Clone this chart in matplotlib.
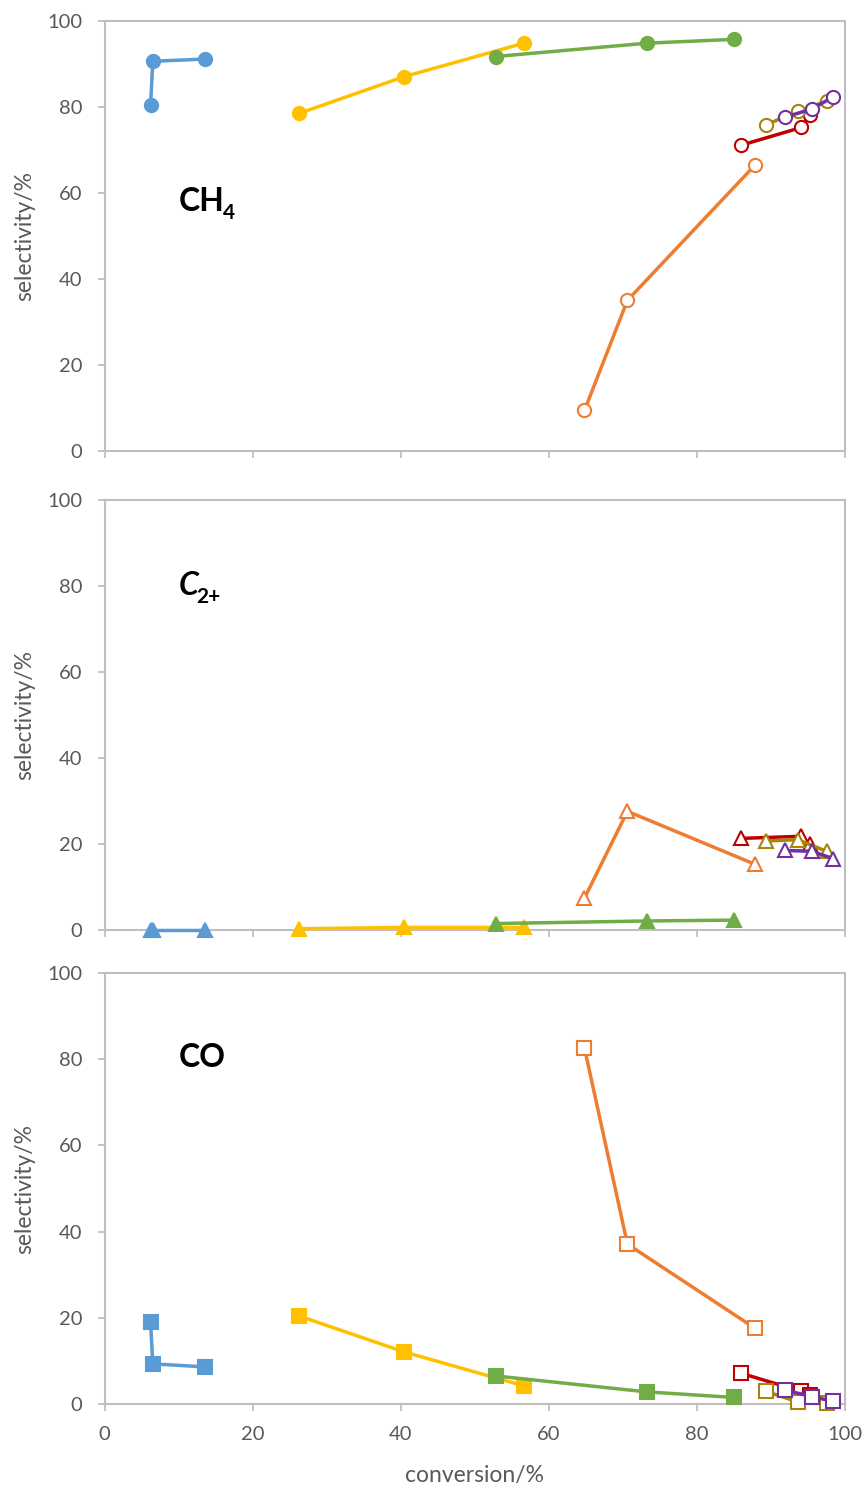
import numpy as np
import matplotlib
matplotlib.use("Agg")
import matplotlib.pyplot as plt
from matplotlib import font_manager

plt.rcParams["font.family"] = ["Lato", "DejaVu Sans"]

# conversion (%) per series, shared by all three panels
conv_blue = [6.2, 6.5, 13.5]
conv_yellow = [26.3, 40.4, 56.6]
conv_green = [52.8, 73.2, 85.0]
conv_orange = [64.8, 70.6, 87.8]
conv_red = [86.0, 94.1, 95.2]
conv_olive = [89.3, 93.6, 97.5]
conv_purple = [91.9, 95.5, 98.4]

# CH4 selectivity (%)
ch4_blue = [80.4, 90.6, 91.1]
ch4_yellow = [78.5, 87.0, 94.8]
ch4_green = [91.7, 94.8, 95.7]
ch4_orange = [9.4, 35.0, 66.4]
ch4_red = [71.1, 75.2, 78.1]
ch4_olive = [75.8, 79.0, 81.3]
ch4_purple = [77.6, 79.5, 82.3]

# C2+ selectivity (%)
c2_blue = [0.0, 0.0, 0.0]
c2_yellow = [0.3, 0.6, 0.6]
c2_green = [1.5, 2.1, 2.3]
c2_orange = [7.4, 27.6, 15.3]
c2_red = [21.3, 21.8, 20.0]
c2_olive = [20.7, 21.0, 18.3]
c2_purple = [18.5, 18.3, 16.6]

# CO selectivity (%)
co_blue = [19.0, 9.3, 8.6]
co_yellow = [20.4, 12.1, 4.2]
co_green = [6.5, 2.8, 1.5]
co_orange = [82.6, 37.1, 17.6]
co_red = [7.1, 2.9, 2.1]
co_olive = [2.9, 0.5, 0.1]
co_purple = [3.2, 1.7, 0.6]

colors = {
    "blue": "#5B9BD5",
    "yellow": "#FFC000",
    "green": "#70AD47",
    "orange": "#ED7D31",
    "red": "#C00000",
    "olive": "#A5850A",
    "purple": "#7030A0",
}
filled = {"blue", "yellow", "green"}

conv = {
    "blue": conv_blue, "yellow": conv_yellow, "green": conv_green,
    "orange": conv_orange, "red": conv_red, "olive": conv_olive,
    "purple": conv_purple,
}
# (marker, main label, subscript, italic main, label y)
panels = [
    ("o", "CH", "4", False, 58, {
        "blue": ch4_blue, "yellow": ch4_yellow, "green": ch4_green,
        "orange": ch4_orange, "red": ch4_red, "olive": ch4_olive,
        "purple": ch4_purple}),
    ("^", "C", "2+", True, 80, {
        "blue": c2_blue, "yellow": c2_yellow, "green": c2_green,
        "orange": c2_orange, "red": c2_red, "olive": c2_olive,
        "purple": c2_purple}),
    ("s", "CO", "", False, 80.5, {
        "blue": co_blue, "yellow": co_yellow, "green": co_green,
        "orange": co_orange, "red": co_red, "olive": co_olive,
        "purple": co_purple}),
]

fig = plt.figure(figsize=(8.65, 14.88), dpi=100)
boxes = [(0.986, 0.697), (0.664, 0.375), (0.346, 0.0565)]
left, right = 0.121, 0.977
grey = "#BFBFBF"
txt = "#595959"

# pick an installed family that really has a bold italic face
ital_family = "DejaVu Sans"
for fam in ["Lato", "Open Sans", "Noto Sans", "Liberation Sans"]:
    fp = font_manager.FontProperties(family=fam, style="italic", weight="bold")
    path = font_manager.findfont(fp, fallback_to_default=False)
    if "italic" in path.lower() or "oblique" in path.lower():
        ital_family = fam
        break

for i, ((marker, main, sub, ital, ly, sel), (top, bot)) in enumerate(zip(panels, boxes)):
    ax = fig.add_axes([left, bot, right - left, top - bot])
    for name in ["blue", "yellow", "green", "orange", "red", "olive", "purple"]:
        c = colors[name]
        ax.plot(conv[name], sel[name], color=c, lw=2.5, marker=marker,
                markersize=9.5 if marker != "^" else 10.5,
                markerfacecolor=c if name in filled else "white",
                markeredgecolor=c, markeredgewidth=1.5,
                clip_on=False, zorder=3)
    ax.set_xlim(0, 100)
    ax.set_ylim(0, 100)
    ax.set_xticks(np.arange(0, 101, 20))
    ax.set_yticks(np.arange(0, 101, 20))
    for s in ax.spines.values():
        s.set_color(grey)
        s.set_linewidth(1.5)
    ax.tick_params(axis="both", colors=grey, labelcolor=txt, labelsize=14.5,
                   length=5, width=1.3, direction="out", pad=11)
    ax.set_ylabel("selectivity/%", color=txt, fontsize=16.5, labelpad=9)
    if i < 2:
        ax.tick_params(axis="x", labelbottom=False)
    else:
        ax.set_xlabel("conversion/%", color=txt, fontsize=16.5, labelpad=16)

    t = ax.text(10, ly, main, fontsize=23, fontweight="bold", color="black",
                ha="left", va="center",
                family=ital_family if ital else "Lato",
                style="italic" if ital else "normal")
    if sub:
        ax.annotate(sub, xy=(1, 0), xycoords=t, xytext=(-1.5, -5),
                    textcoords="offset points", fontsize=15,
                    fontweight="bold", color="black", ha="left", va="bottom")

fig.savefig("out.png", dpi=100)
